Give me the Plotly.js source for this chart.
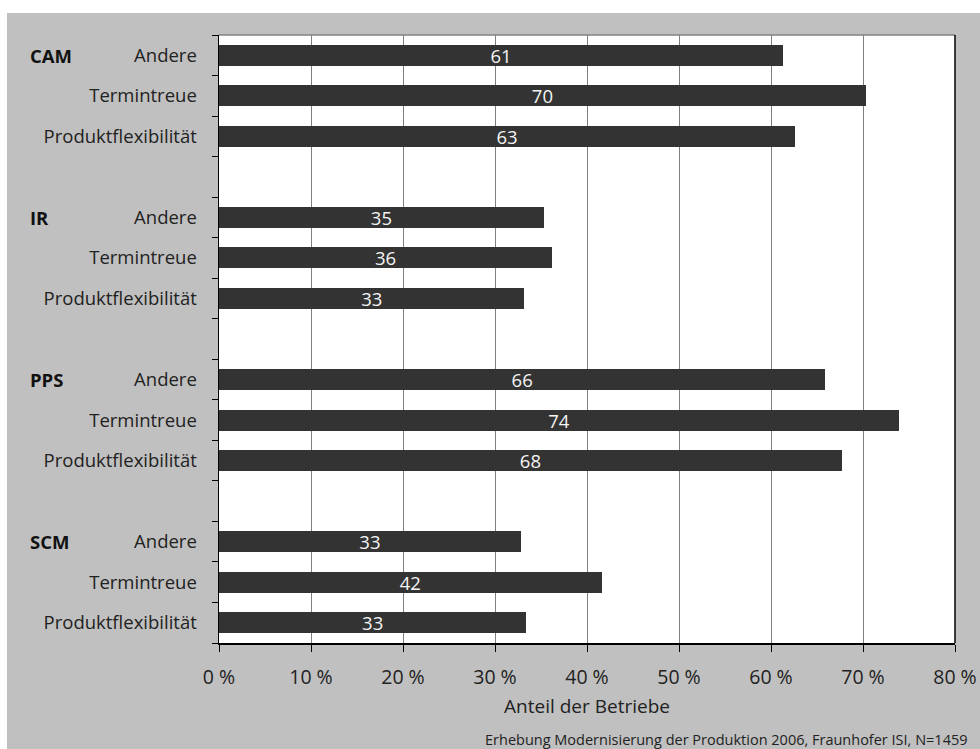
<!DOCTYPE html>
<html>
<head>
<meta charset="utf-8">
<script src="https://cdn.plot.ly/plotly-3.0.1.min.js"></script>
<style>
  html, body { margin: 0; padding: 0; background: #ffffff; width: 980px; height: 749px; overflow: hidden; }
  #chart { position: absolute; left: 7px; top: 13px; width: 973px; height: 736px; }
</style>
</head>
<body>
<div id="chart"></div>
<script>
// Data
const groups = ["CAM", "IR", "PPS", "SCM"];
const categories = ["Andere", "Termintreue", "Produktflexibilität"];
const values = [
  [61.3, 70.3, 62.6],   // CAM
  [35.3, 36.2, 33.2],   // IR
  [65.9, 73.9, 67.7],   // PPS
  [32.8, 41.6, 33.4]    // SCM
];
const labels = [
  ["61", "70", "63"],
  ["35", "36", "33"],
  ["66", "74", "68"],
  ["33", "42", "33"]
];
const xTickVals = [0, 10, 20, 30, 40, 50, 60, 70, 80];
const xTickText = ["0 %", "10 %", "20 %", "30 %", "40 %", "50 %", "60 %", "70 %", "80 %"];
const xTitle = "Anteil der Betriebe";
const footer = "Erhebung Modernisierung der Produktion 2006, Fraunhofer ISI, N=1459";

// Build positions: each group occupies 3 slots plus one empty slot
const slotsPerGroup = categories.length + 1;
const ys = [], xs = [], txt = [], tickVals = [], tickText = [];
groups.forEach((g, gi) => {
  categories.forEach((c, ci) => {
    const pos = gi * slotsPerGroup + ci;
    ys.push(pos); xs.push(values[gi][ci]); txt.push(labels[gi][ci]);
    tickVals.push(pos); tickText.push(c);
  });
});
const nSlots = groups.length * slotsPerGroup - 1;
const boundaries = [];
for (let i = 0; i <= nSlots; i++) boundaries.push(i - 0.5);

const font = "'Open Sans', 'Noto Sans', sans-serif";

const trace = {
  type: "bar",
  orientation: "h",
  x: xs,
  y: ys,
  text: txt,
  textposition: "inside",
  insidetextanchor: "middle",
  textangle: 0,
  constraintext: "none",
  textfont: { family: font, size: 18.5, color: "#f4f4f4" },
  marker: { color: "#333333", line: { width: 0 } },
  width: 0.52,
  hoverinfo: "none"
};

const annotations = groups.map((g, gi) => ({
  text: "<b>" + g + "</b>",
  xref: "paper", yref: "y",
  x: -0.259, y: gi * slotsPerGroup,
  xanchor: "left", yanchor: "middle",
  showarrow: false,
  font: { family: font, size: 18.5, color: "#111111" }
}));
annotations.push({
  text: footer,
  xref: "paper", yref: "paper",
  x: 1.02, y: -0.158,
  xanchor: "right", yanchor: "middle",
  showarrow: false,
  font: { family: font, size: 14.5, color: "#222222" }
});

const layout = {
  width: 973, height: 736,
  paper_bgcolor: "#c0c0c0",
  plot_bgcolor: "#ffffff",
  margin: { l: 212, r: 25, t: 22, b: 106 },
  showlegend: false,
  bargap: 0,
  xaxis: {
    range: [0, 80],
    tickmode: "array",
    tickvals: xTickVals,
    ticktext: xTickText,
    ticks: "outside",
    ticklen: 7,
    tickcolor: "#000000",
    tickwidth: 1,
    ticklabelstandoff: 9,
    showgrid: true,
    gridcolor: "#808080",
    gridwidth: 1,
    showline: true,
    linecolor: "#000000",
    linewidth: 1.5,
    zeroline: false,
    tickfont: { family: font, size: 19.5, color: "#222222" },
    title: { text: xTitle, font: { family: font, size: 19, color: "#222222" }, standoff: 11 },
    fixedrange: true
  },
  yaxis: {
    range: [nSlots - 0.5, -0.5],
    tickmode: "array",
    tickvals: tickVals,
    ticktext: tickText,
    ticks: "",
    ticklabelstandoff: 17,
    showgrid: false,
    zeroline: false,
    showline: true,
    linecolor: "#000000",
    linewidth: 1.5,
    tickfont: { family: font, size: 18.5, color: "#222222" },
    minor: {
      tickmode: "array",
      tickvals: boundaries,
      ticks: "outside",
      ticklen: 6,
      tickcolor: "#000000",
      tickwidth: 1,
      showgrid: false
    },
    fixedrange: true
  },
  shapes: [
    { type: "line", xref: "paper", yref: "paper", x0: 0, x1: 1, y0: 1, y1: 1,
      line: { color: "#808080", width: 1.5 } },
    { type: "line", xref: "paper", yref: "paper", x0: 1, x1: 1, y0: 0, y1: 1,
      line: { color: "#000000", width: 1.5 } }
  ],
  annotations: annotations
};

Plotly.newPlot("chart", [trace], layout, { displayModeBar: false, staticPlot: true });
</script>
</body>
</html>
